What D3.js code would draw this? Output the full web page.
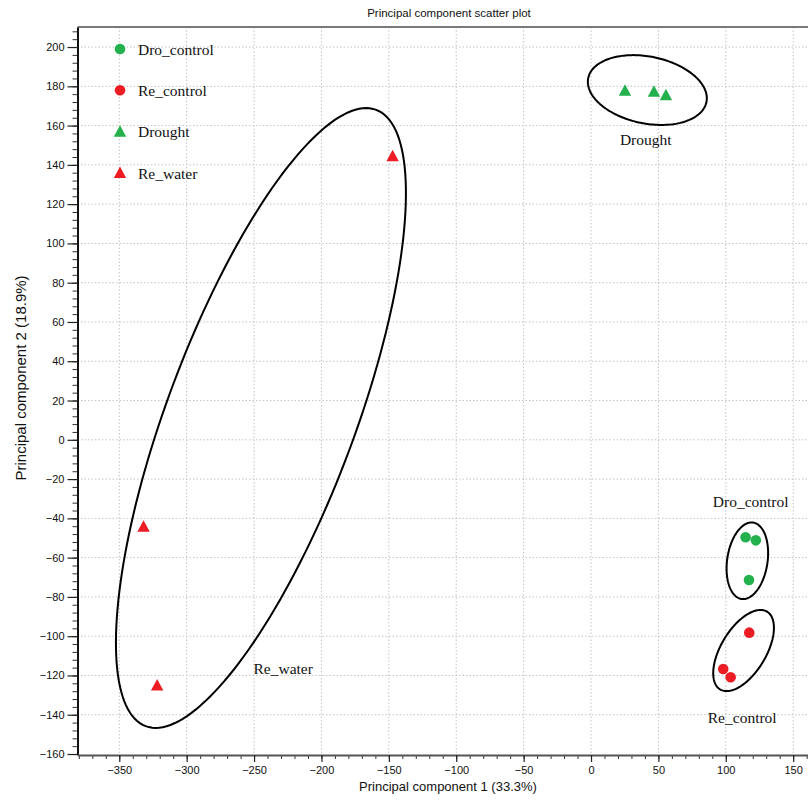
<!DOCTYPE html>
<html>
<head>
<meta charset="utf-8">
<script src="https://cdn.jsdelivr.net/npm/d3@7"></script>
<style>
  html, body { margin: 0; padding: 0; background: #fff; }
  svg { display: block; }
  .sans { font-family: Arial, "Liberation Sans", sans-serif; }
  .serif { font-family: "Times New Roman", "Liberation Serif", serif; }
</style>
</head>
<body>
<div id="chart"></div>
<script>
(function () {
    'use strict';

    // groups and their scores on PC1 / PC2
    var groups = ['Dro_control', 'Re_control', 'Drought', 'Re_water'];
    var groupShapes = ['circle', 'circle', 'triangle', 'triangle'];
    var groupColors = ['#22b14c', '#ed1c24', '#22b14c', '#ed1c24'];

    var droControlPC1 = [114.7, 122.3, 117.2];
    var droControlPC2 = [-49.6, -51.2, -71.4];
    var reControlPC1 = [117.4, 98.1, 103.6];
    var reControlPC2 = [-98.2, -116.7, -120.9];
    var droughtPC1 = [25.2, 46.7, 55.6];
    var droughtPC2 = [177.9, 177.4, 175.6];
    var reWaterPC1 = [-332.0, -321.9, -147.2];
    var reWaterPC2 = [-44.1, -125.0, 144.5];

    // group ellipses: centre and the two half axes (data units)
    var ellipseCenters = [[116.0, -61.6], [113.2, -107.3], [41.8, 178.1], [-244.9, 11.1]];
    var ellipseMajor = [[4.3, 19.45], [17.4, 19.8], [43.85, -6.1], [85.5, 156.9]];
    var ellipseMinor = [[14.8, -1.55], [14.3, -5.9], [-4.97, -16.7], [65.3, -16.8]];

    // group name labels next to the ellipses (data units, text centre / baseline)
    var labelPC1 = [118.5, 112.2, 40.6, -228.4];
    var labelPC2 = [-34.4, -144.1, 150.1, -119.3];

    var xTicks = [-350, -300, -250, -200, -150, -100, -50, 0, 50, 100, 150];
    var yTicks = [-160, -140, -120, -100, -80, -60, -40, -20, 0, 20, 40, 60, 80, 100, 120, 140, 160, 180, 200];

    var title = 'Principal component scatter plot';
    var xTitle = 'Principal component 1 (33.3%)';
    var yTitle = 'Principal component 2 (18.9%)';

    var width = 808;
    var height = 807;
    var left = 77.5, right = 808, top = 27, bottom = 755;

    var pc1 = [droControlPC1, reControlPC1, droughtPC1, reWaterPC1];
    var pc2 = [droControlPC2, reControlPC2, droughtPC2, reWaterPC2];

    var points = [];
    groups.forEach(function (g, i) {
        pc1[i].forEach(function (v, j) {
            points.push({ group: i, x: v, y: pc2[i][j] });
        });
    });

    var x = d3.scaleLinear().domain([-381, 161]).range([left, right]);
    var y = d3.scaleLinear().domain([-160.5, 210.2]).range([bottom, top]);

    var svg = d3.select('#chart').append('svg')
        .attr('width', width)
        .attr('height', height);

    // dotted grid
    svg.append('g').selectAll('line.vg')
        .data(xTicks)
        .enter().append('line')
        .attr('x1', function (d) { return x(d); })
        .attr('x2', function (d) { return x(d); })
        .attr('y1', top)
        .attr('y2', bottom)
        .style('stroke', '#c4c4c4')
        .style('stroke-width', 1)
        .style('stroke-dasharray', '1.5,2');

    svg.append('g').selectAll('line.hg')
        .data(yTicks.filter(function (d) { return d > -160; }))
        .enter().append('line')
        .attr('x1', left)
        .attr('x2', right)
        .attr('y1', function (d) { return y(d); })
        .attr('y2', function (d) { return y(d); })
        .style('stroke', '#c4c4c4')
        .style('stroke-width', 1)
        .style('stroke-dasharray', '1.5,2');

    // top frame line
    svg.append('line')
        .attr('x1', left).attr('x2', right)
        .attr('y1', top).attr('y2', top)
        .style('stroke', '#7a7a7a')
        .style('stroke-width', 2);

    // minor ticks
    var yMinor = d3.range(-160, 210.1, 4);
    var xMinor = d3.range(-380, 161, 10);

    var yMinorAxis = svg.append('g')
        .attr('transform', 'translate(' + left + ',0)')
        .call(d3.axisLeft(y).tickValues(yMinor).tickSize(5).tickFormat(''));
    var xMinorAxis = svg.append('g')
        .attr('transform', 'translate(0,' + bottom + ')')
        .call(d3.axisBottom(x).tickValues(xMinor).tickSize(4).tickFormat(''));
    [yMinorAxis, xMinorAxis].forEach(function (a) {
        a.select('.domain').remove();
        a.selectAll('line').style('stroke', '#333').style('stroke-width', 1);
    });

    // major axes
    var yAxis = svg.append('g')
        .attr('class', 'sans')
        .attr('transform', 'translate(' + left + ',0)')
        .call(d3.axisLeft(y).tickValues(yTicks).tickSize(10).tickPadding(3).tickSizeOuter(0));
    var xAxis = svg.append('g')
        .attr('class', 'sans')
        .attr('transform', 'translate(0,' + bottom + ')')
        .call(d3.axisBottom(x).tickValues(xTicks).tickSize(7).tickPadding(4).tickSizeOuter(0));

    [yAxis, xAxis].forEach(function (a) {
        a.selectAll('text')
            .style('font-family', 'Arial, "Liberation Sans", sans-serif')
            .style('font-size', '11px')
            .style('fill', '#111');
        a.selectAll('line').style('stroke', '#222').style('stroke-width', 1.2);
    });
    yAxis.select('.domain').style('stroke', '#111').style('stroke-width', 2);
    xAxis.select('.domain').style('stroke', '#555').style('stroke-width', 2);

    // ellipses
    var ellipseLine = d3.line()
        .x(function (d) { return x(d[0]); })
        .y(function (d) { return y(d[1]); })
        .curve(d3.curveLinearClosed);
    var angles = d3.range(0, 2 * Math.PI, Math.PI / 90);

    svg.append('g').selectAll('path.ellipse')
        .data(ellipseCenters)
        .enter().append('path')
        .attr('d', function (c, i) {
            var a = ellipseMajor[i], b = ellipseMinor[i];
            return ellipseLine(angles.map(function (t) {
                return [c[0] + a[0] * Math.cos(t) + b[0] * Math.sin(t),
                        c[1] + a[1] * Math.cos(t) + b[1] * Math.sin(t)];
            }));
        })
        .style('fill', 'none')
        .style('stroke', '#000')
        .style('stroke-width', 2);

    // markers
    var triangle = 'M0,-6.2L6.2,5.3L-6.2,5.3Z';

    function drawMarker(sel, shape, color) {
        if (shape === 'circle') {
            sel.append('circle').attr('r', 5.3).style('fill', color);
        } else {
            sel.append('path').attr('d', triangle).style('fill', color);
        }
    }

    svg.append('g').selectAll('g.pt')
        .data(points)
        .enter().append('g')
        .attr('transform', function (d) { return 'translate(' + x(d.x) + ',' + y(d.y) + ')'; })
        .each(function (d) {
            drawMarker(d3.select(this), groupShapes[d.group], groupColors[d.group]);
        });

    // group labels
    svg.append('g').selectAll('text.glabel')
        .data(groups)
        .enter().append('text')
        .attr('class', 'serif')
        .attr('x', function (d, i) { return x(labelPC1[i]); })
        .attr('y', function (d, i) { return y(labelPC2[i]); })
        .attr('text-anchor', 'middle')
        .style('font-size', '15.5px')
        .style('fill', '#111')
        .text(function (d) { return d; });

    // legend
    var legend = svg.append('g').selectAll('g.leg')
        .data(groups)
        .enter().append('g')
        .attr('transform', function (d, i) { return 'translate(120,' + (49 + i * 41.2) + ')'; });
    legend.each(function (d, i) {
        drawMarker(d3.select(this), groupShapes[i], groupColors[i]);
    });
    legend.append('text')
        .attr('class', 'serif')
        .attr('x', 18)
        .attr('y', 6)
        .style('font-size', '15.5px')
        .style('fill', '#111')
        .text(function (d) { return d; });

    // titles
    svg.append('text')
        .attr('class', 'sans')
        .attr('x', 449)
        .attr('y', 17)
        .attr('text-anchor', 'middle')
        .style('font-size', '11.5px')
        .style('fill', '#111')
        .text(title);

    svg.append('text')
        .attr('class', 'sans')
        .attr('x', 448)
        .attr('y', 791)
        .attr('text-anchor', 'middle')
        .style('font-size', '13px')
        .style('fill', '#111')
        .text(xTitle);

    svg.append('text')
        .attr('class', 'sans')
        .attr('transform', 'translate(26,378) rotate(-90)')
        .attr('text-anchor', 'middle')
        .style('font-size', '15px')
        .style('fill', '#111')
        .text(yTitle);
})();
</script>
</body>
</html>
